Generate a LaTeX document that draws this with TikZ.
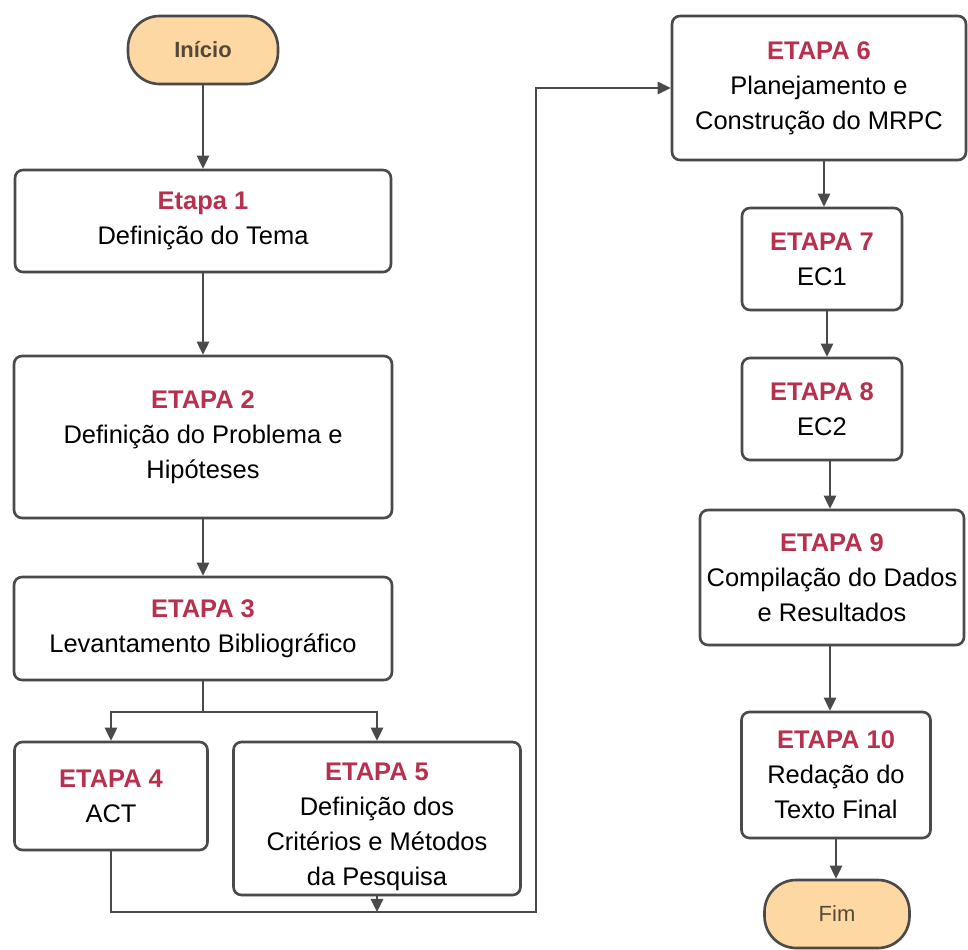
\documentclass[tikz,border=0pt]{standalone}
\usepackage{fontspec}
\setmainfont{Liberation Sans}
\usetikzlibrary{arrows.meta,shadows}
\definecolor{edge}{RGB}{74,74,74}
\definecolor{steptitle}{RGB}{183,48,77}
\definecolor{terminal}{RGB}{253,216,162}
\definecolor{termtext}{RGB}{85,72,58}
\tikzset{
  stepbox/.style={draw=edge, line width=1.5pt, rounded corners=4.5pt, fill=white,
    align=center, inner sep=2pt,
    font=\fontsize{14.5}{20}\selectfont,
    drop shadow={opacity=0.14, shadow xshift=0.6pt, shadow yshift=-0.9pt}},
  endpoint/.style={draw=edge, line width=1.5pt, fill=terminal, rounded corners=18pt,
    text=termtext, font=\fontsize{12.5}{15}\selectfont,
    drop shadow={opacity=0.14, shadow xshift=0.6pt, shadow yshift=-0.9pt}},
  link/.style={draw=edge, line width=1.3pt},
  arr/.style={link, -{Triangle[length=7.5pt,width=7pt]}},
}
\newcommand{\ttl}[1]{{\bfseries\color{steptitle}#1}}
\begin{document}
\begin{tikzpicture}[x=0.02cm,y=-0.02cm]
  \useasboundingbox[fill=white] (0,0) rectangle (968,950);

  % terminals
  \node[endpoint, minimum width=3.0cm, minimum height=1.36cm] (ini) at (203,50) {\bfseries Início};
  \node[endpoint, minimum width=2.9cm, minimum height=1.36cm] (fim) at (837,914) {Fim};

  % left column
  \node[stepbox, minimum width=7.52cm, minimum height=2.04cm] (e1) at (203,221)
    {\ttl{Etapa 1}\\Definição do Tema};
  \node[stepbox, minimum width=7.56cm, minimum height=3.24cm] (e2) at (203,437)
    {\ttl{ETAPA 2}\\Definição do Problema e\\Hipóteses};
  \node[stepbox, minimum width=7.56cm, minimum height=2.06cm] (e3) at (203,628.5)
    {\ttl{ETAPA 3}\\Levantamento Bibliográfico};
  \node[stepbox, minimum width=3.86cm, minimum height=2.16cm] (e4) at (111,796)
    {\ttl{ETAPA 4}\\ACT};
  \node[stepbox, minimum width=5.74cm, minimum height=3.06cm] (e5) at (377,818.5)
    {\rule{0pt}{19.5pt}\ttl{ETAPA 5}\\Definição dos\\Critérios e Métodos\\da Pesquisa};

  % right column
  \node[stepbox, minimum width=5.88cm, minimum height=2.88cm] (e6) at (819,88)
    {\ttl{ETAPA 6}\\Planejamento e\\Construção do MRPC};
  \node[stepbox, minimum width=3.2cm, minimum height=2.04cm] (e7) at (822,259)
    {\ttl{ETAPA 7}\\EC1};
  \node[stepbox, minimum width=3.2cm, minimum height=2.04cm] (e8) at (822,409)
    {\ttl{ETAPA 8}\\EC2};
  \node[stepbox, minimum width=5.28cm, minimum height=2.7cm] (e9) at (832,577.5)
    {\ttl{ETAPA 9}\\Compilação do Dados\\e Resultados};
  \node[stepbox, minimum width=3.78cm, minimum height=2.52cm] (e10) at (836,775)
    {\ttl{ETAPA 10}\\Redação do\\Texto Final};

  % junctions
  \coordinate (split) at (203,712);
  \coordinate (merge) at (536,912);

  % connectors
  \draw[arr] (ini.south) -- (ini.south |- e1.north);
  \draw[arr] (e1.south) -- (e1.south |- e2.north);
  \draw[arr] (e2.south) -- (e2.south |- e3.north);
  \draw[link] (e3.south) -- (split);
  \draw[arr] (split) -| (e4.north);
  \draw[arr] (split) -| (e5.north);
  \draw[arr] (e4.south) |- (merge) |- (e6.west);
  \draw[arr] (e5.south) -- (e5.south |- merge);
  \draw[arr] ([xshift=0.1cm]e6.south) -- ([xshift=0.1cm]e6.south |- e7.north);
  \draw[arr] ([xshift=0.1cm]e7.south) -- ([xshift=0.1cm]e7.south |- e8.north);
  \draw[arr] ([xshift=0.16cm]e8.south) -- ([xshift=0.16cm]e8.south |- e9.north);
  \draw[arr] ([xshift=-0.04cm]e9.south) -- ([xshift=-0.04cm]e9.south |- e10.north);
  \draw[arr] (e10.south) -- (e10.south |- fim.north);
\end{tikzpicture}
\end{document}
